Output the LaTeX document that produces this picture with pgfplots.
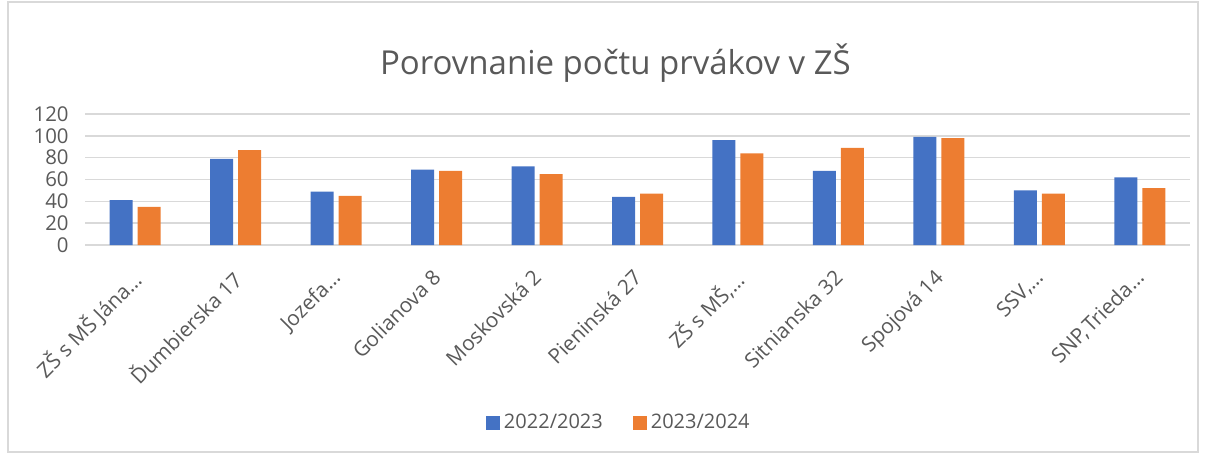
\documentclass[border=0pt]{standalone}
\usepackage{pgfplots}
\pgfplotsset{compat=1.18}
\usepackage{fontspec}
\setmainfont{Open Sans}
\definecolor{bl}{HTML}{4472C4}
\definecolor{or}{HTML}{ED7D31}
\definecolor{txt}{HTML}{595959}
\definecolor{grd}{HTML}{D9D9D9}
\begin{document}
\begin{tikzpicture}[x=0.5pt,y=0.5pt]
\path[use as bounding box] (-85,-211) rectangle (1123,245);
\draw[grd, line width=1pt] (-77,-207) rectangle (1113,243);
\begin{axis}[
    at={(0,0)}, anchor=south west,
    scale only axis,
    width=552.5pt, height=65.5pt,
    ybar=2.5pt, bar width=11.5pt,
    ymin=0, ymax=120, ytick={0,20,...,120},
    xmin=-0.5, xmax=10.5,
    xtick=data,
    xticklabels={ZŠ s MŠ Jána\dots, Ďumbierska 17, Jozefa\dots, Golianova 8, Moskovská 2, Pieninská 27, {ZŠ s MŠ,\dots}, Sitnianska 32, Spojová 14, {SSV,\dots}, {SNP,\kern1pt Trieda\dots}},
    x tick label style={rotate=45, anchor=north east, font=\fontsize{10.4}{12}\selectfont, inner sep=1pt, yshift=-5pt, xshift=-9pt},
    y tick label style={font=\fontsize{10.2}{10.2}\selectfont, xshift=-8pt, inner sep=0pt},
    tick label style={text=txt},
    /pgf/number format/assume math mode=true,
    major tick length=0pt,
    ymajorgrids, grid style={grd, line width=0.8pt},
    axis x line*=bottom, axis y line*=left,
    x axis line style={grd, line width=0.8pt},
    y axis line style={draw=none},
    title={Porovnanie počtu prvákov v ZŠ},
    title style={at={(0.48,1.30)}, anchor=center, font=\fontsize{16.5}{18}\selectfont, text=txt},
    legend style={at={(0.484,-1.359)}, anchor=center, draw=none, legend columns=2,
        font=\fontsize{10}{12}\selectfont, text=txt,
        /tikz/every even column/.append style={column sep=13pt}},
    legend image code/.code={\fill[#1] (0pt,-3.5pt) rectangle (7pt,3.5pt);},
]
\addplot[fill=bl, draw=none] coordinates {(0,41) (1,79) (2,49) (3,69) (4,72) (5,44) (6,96) (7,68) (8,99) (9,50) (10,62)};
\addplot[fill=or, draw=none] coordinates {(0,35) (1,87) (2,45) (3,68) (4,65) (5,47) (6,84) (7,89) (8,98) (9,47) (10,52)};
\legend{2022/2023, 2023/2024}
\end{axis}
\end{tikzpicture}
\end{document}
